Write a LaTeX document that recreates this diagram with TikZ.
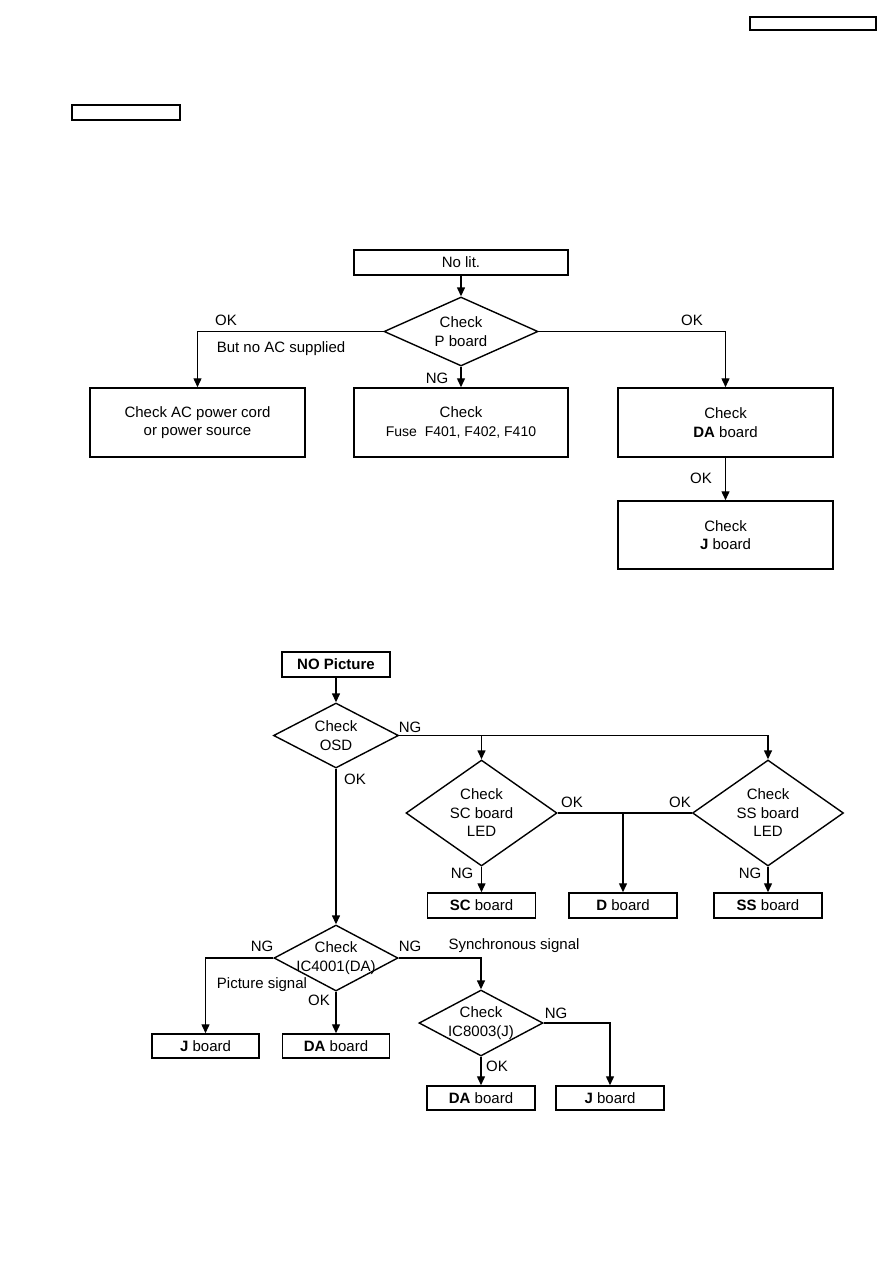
\documentclass[tikz,border=0pt]{standalone}
\usepackage{fontspec}
\setmainfont{Liberation Sans}
\usetikzlibrary{arrows.meta,shapes.geometric}

\begin{document}
\begin{tikzpicture}[
  x=1pt,y=-1pt,
  font=\fontsize{15}{18.5}\selectfont,
  >={Triangle[length=9pt,width=8pt]},
  panel/.style={draw,line width=1.5pt,align=center,inner sep=0pt,
                minimum width=215,minimum height=69},
  result/.style={draw,line width=1.5pt,inner sep=0pt,
                 minimum width=108,minimum height=25},
  decision/.style={diamond,draw,line width=1.4pt,align=center,
                   inner sep=-4pt},
  flow/.style={->,line width=1.4pt},
  tagbox/.style={draw,line width=1.1pt,inner sep=0pt},
  note/.style={inner sep=0pt}
]
\useasboundingbox (0,0) rectangle (893,1263);

% blank tags of the page
\node[tagbox,minimum width=126,minimum height=13] (pagetag) at (813,23.5) {};
\node[tagbox,minimum width=108,minimum height=15] (secttag) at (126,112.5) {};

% first chart
\node[result,minimum width=214] (nolit) at (461,262.5) {No lit.};
\node[decision,shape aspect=2.2,minimum width=154,minimum height=69]
  (pboard) at (461,331.5) {Check\\P board};
\node[panel] (acpower) at (197.5,422.5) {Check AC power cord\\or power source};
\node[panel,minimum width=214] (fuse) at (461,422.5)
  {Check\\{\fontsize{14}{18.5}\selectfont Fuse\ \ F401, F402, F410}};
\node[panel] (daboard) at (725.5,422.5) {Check\\\textbf{DA} board};
\node[panel,minimum height=68] (jboard) at (725.5,535) {Check\\\textbf{J} board};

\draw[flow] (nolit) -- (pboard);
\draw[flow] (pboard.west) -| (acpower.north);
\draw[flow] (pboard) -- (fuse);
\draw[flow] (pboard.east) -| (daboard.north);
\draw[flow] (daboard) -- (jboard);

\node[note] (okac) at (226,320) {OK};
\node[note] (noac) at (281,349) {But no AC supplied};
\node[note] (okda) at (692,320) {OK};
\node[note] (ngfuse) at (437,378) {NG};
\node[note] (okj) at (701,478) {OK};

% second chart
\node[result] (nopic) at (336,664.5) {\textbf{NO Picture}};
\node[decision,shape aspect=1.9,minimum width=125,minimum height=65]
  (osd) at (336,735.5) {Check\\OSD};
\node[decision,shape aspect=1.4,minimum width=151,minimum height=106]
  (scled) at (481.5,813) {Check\\SC board\\LED};
\node[decision,shape aspect=1.4,minimum width=151,minimum height=106]
  (ssled) at (768,813) {Check\\SS board\\LED};
\node[result] (scres) at (481.5,905.5) {\textbf{SC} board};
\node[result] (dres) at (623,905.5) {\textbf{D} board};
\node[result] (ssres) at (768,905.5) {\textbf{SS} board};
\node[decision,shape aspect=1.9,minimum width=124,minimum height=66]
  (ic4001) at (336,958) {Check\\IC4001(DA)};
\node[decision,shape aspect=1.9,minimum width=124,minimum height=66]
  (ic8003) at (481,1023) {Check\\IC8003(J)};
\node[result,minimum width=107,minimum height=24] (jres1) at (205.5,1046)
  {\textbf{J} board};
\node[result,minimum width=107,minimum height=24] (dares1) at (336,1046)
  {\textbf{DA} board};
\node[result,minimum height=24] (dares2) at (481,1098) {\textbf{DA} board};
\node[result,minimum height=24] (jres2) at (610,1098) {\textbf{J} board};

\draw[flow] (nopic) -- (osd);
\draw[flow] (osd.east) -| (scled.north);
\draw[flow] (osd.east) -| (ssled.north);
\draw[line width=1.4pt] (scled.east) -- (ssled.west);
\draw[flow] (scled.east -| dres.north) -- (dres.north);
\draw[flow] (scled) -- (scres);
\draw[flow] (ssled) -- (ssres);
\draw[flow] (osd) -- (ic4001);
\draw[flow] (ic4001.west) -| (jres1.north);
\draw[flow] (ic4001) -- (dares1);
\draw[flow] (ic4001.east) -| (ic8003.north);
\draw[flow] (ic8003) -- (dares2);
\draw[flow] (ic8003.east) -| (jres2.north);

\node[note] (ngosd) at (410,727) {NG};
\node[note] (okosd) at (355,779) {OK};
\node[note] (okscled) at (572,802) {OK};
\node[note] (okssled) at (680,802) {OK};
\node[note] (ngscled) at (462,873) {NG};
\node[note] (ngssled) at (750,873) {NG};
\node[note] (ngpic) at (262,946) {NG};
\node[note] (picsig) at (262,985) {Picture signal};
\node[note] (okic4001) at (319,1000) {OK};
\node[note] (ngsync) at (410,946) {NG};
\node[note] (syncsig) at (514,946) {Synchronous signal};
\node[note] (ngic8003) at (556,1013) {NG};
\node[note] (okic8003) at (497,1066) {OK};
\end{tikzpicture}
\end{document}
